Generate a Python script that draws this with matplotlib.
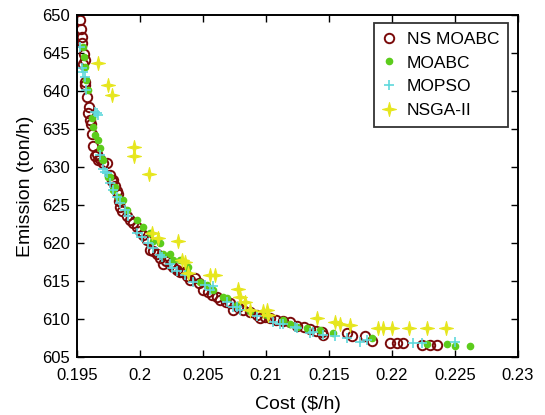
import matplotlib
matplotlib.use("Agg")
import matplotlib.pyplot as plt
from matplotlib.path import Path
import numpy as np

plt.rcParams['font.family'] = ['Liberation Sans', 'DejaVu Sans']

ns_cost = [0.19524, 0.19530, 0.19537, 0.19537, 0.19550, 0.19556, 0.19563, 0.19563, 0.19563,
           0.19577, 0.19590, 0.19597, 0.19603, 0.19610, 0.19617, 0.19630, 0.19643, 0.19656,
           0.19670, 0.19683, 0.19709, 0.19736, 0.19760, 0.19775, 0.19788, 0.19800, 0.19815,
           0.19828, 0.19835, 0.19841, 0.19860, 0.19894, 0.19920, 0.19945, 0.19974, 0.20000,
           0.20025, 0.20053, 0.20079, 0.20105, 0.20133, 0.20160, 0.20185, 0.20210, 0.20238,
           0.20265, 0.20291, 0.20320, 0.20344, 0.20370, 0.20397, 0.20437, 0.20470, 0.20502,
           0.20540, 0.20570, 0.20609, 0.20635, 0.20680, 0.20714, 0.20740, 0.20780, 0.20820,
           0.20870, 0.20926, 0.20952, 0.20990, 0.21032, 0.21080, 0.21137, 0.21190, 0.21244,
           0.21300, 0.21349, 0.21400, 0.21442, 0.21455, 0.21640, 0.21680, 0.21786, 0.21839,
           0.21984, 0.22037, 0.22090, 0.22236, 0.22302, 0.22360]
ns_em = [649.3, 648.2, 647.1, 646.3, 643.6, 644.9, 644.1, 641.2, 640.8,
         639.2, 637.1, 637.9, 636.2, 635.6, 634.4, 632.7, 631.4, 631.7,
         630.9, 631.1, 630.5, 630.5, 629.0, 628.1, 628.3, 627.5, 626.8,
         626.5, 625.5, 624.8, 624.2, 623.5, 623.0, 622.6, 622.1, 621.6,
         621.0, 620.4, 619.1, 619.0, 618.6, 618.0, 617.3, 617.6, 617.3,
         616.8, 616.4, 616.2, 616.2, 615.6, 615.1, 615.4, 614.7, 613.8,
         613.6, 613.2, 612.9, 612.5, 612.3, 612.1, 611.2, 611.6, 611.2,
         610.9, 610.5, 610.1, 610.3, 610.1, 609.9, 609.7, 609.6, 609.1,
         609.0, 608.7, 608.4, 608.3, 607.9, 608.1, 607.7, 607.7, 607.1,
         606.9, 606.9, 606.8, 606.6, 606.6, 606.6]

moabc_cost = [0.19550, 0.19556, 0.19563, 0.19571, 0.19590, 0.19617, 0.19630, 0.19643, 0.19669,
              0.19683, 0.19696, 0.19709, 0.19749, 0.19762, 0.19788, 0.19802, 0.19828, 0.19855,
              0.19867, 0.19894, 0.19974, 0.20026, 0.20079, 0.20106, 0.20159, 0.20185, 0.20238,
              0.20264, 0.20317, 0.20370, 0.20383, 0.20476, 0.20529, 0.20582, 0.20661, 0.20688,
              0.20767, 0.20873, 0.21006, 0.21137, 0.21191, 0.21244, 0.21323, 0.21429, 0.21534,
              0.21839, 0.22275, 0.22434, 0.22500, 0.22619]
moabc_em = [645.8, 644.5, 643.2, 641.4, 640.1, 636.4, 635.3, 634.2, 633.6,
            632.5, 631.1, 630.9, 628.7, 628.7, 627.0, 627.4, 626.1, 625.7,
            625.7, 624.3, 623.0, 622.1, 621.3, 620.2, 620.0, 618.6, 618.6,
            617.8, 617.8, 616.2, 616.9, 614.9, 614.5, 613.8, 612.9, 612.7,
            611.8, 611.1, 610.5, 609.9, 609.4, 609.0, 608.8, 608.5, 608.1,
            607.5, 606.7, 606.7, 606.5, 606.4]

mopso_cost = [0.19524, 0.19537, 0.19550, 0.19563, 0.19571, 0.19643, 0.19656, 0.19669, 0.19683,
              0.19709, 0.19722, 0.19736, 0.19762, 0.19788, 0.19815, 0.19841, 0.19881, 0.19907,
              0.19974, 0.20013, 0.20066, 0.20106, 0.20159, 0.20172, 0.20238, 0.20251, 0.20291,
              0.20357, 0.20423, 0.20516, 0.20556, 0.20582, 0.20688, 0.20740, 0.20767, 0.20794,
              0.20926, 0.21058, 0.21111, 0.21137, 0.21230, 0.21244, 0.21349, 0.21375, 0.21455,
              0.21548, 0.21640, 0.21746, 0.21799, 0.22169, 0.22236, 0.22500]
mopso_em = [645.8, 643.0, 642.5, 641.9, 640.1, 637.3, 637.1, 636.8, 631.6,
            629.8, 629.4, 629.2, 627.9, 627.0, 626.1, 625.2, 624.3, 623.5,
            621.3, 620.8, 620.0, 619.3, 618.4, 618.2, 617.3, 616.7, 616.3,
            615.8, 614.9, 614.5, 613.8, 614.3, 612.3, 611.6, 611.6, 611.2,
            610.4, 609.6, 609.4, 609.4, 609.0, 608.8, 608.1, 608.3, 607.9,
            607.7, 607.5, 607.0, 607.2, 606.8, 606.8, 607.0]

nsga_cost = [0.19669, 0.19744, 0.19775, 0.19952, 0.19952, 0.20074, 0.20093, 0.20145, 0.20304,
             0.20331, 0.20357, 0.20383, 0.20556, 0.20595, 0.20780, 0.20794, 0.20833, 0.20873,
             0.21006, 0.20979, 0.21018, 0.21402, 0.21548, 0.21587, 0.21667, 0.21891, 0.21931,
             0.21998, 0.22137, 0.22275, 0.22429]
nsga_em = [643.7, 640.8, 639.5, 632.6, 631.5, 629.1, 621.3, 620.6, 620.2,
           617.8, 617.5, 616.0, 615.8, 615.8, 614.0, 612.9, 612.3, 611.2,
           611.2, 611.0, 610.5, 610.1, 609.6, 609.4, 609.2, 608.8, 608.8,
           608.8, 608.8, 608.8, 608.8]

x_ticks = [0.195, 0.2, 0.205, 0.21, 0.215, 0.22, 0.225, 0.23]
x_tick_labels = ['0.195', '0.2', '0.205', '0.21', '0.215', '0.22', '0.225', '0.23']
y_ticks = [605, 610, 615, 620, 625, 630, 635, 640, 645, 650]

# thin 4-pointed star marker
ang = np.arange(8) * np.pi / 4 + np.pi / 2
rad = np.where(np.arange(8) % 2 == 0, 1.0, 0.28)
star_verts = np.column_stack([rad * np.cos(ang), rad * np.sin(ang)])
star_verts = np.vstack([star_verts, star_verts[:1]])
star = Path(star_verts, closed=True)

fig = plt.figure(figsize=(5.45, 4.15), dpi=100)
ax = fig.add_axes([77/545, 1-357/415, (518-77)/545, (357-15)/415])

ax.plot(ns_cost, ns_em, linestyle='none', marker='o', markersize=6.8, markerfacecolor='none',
        markeredgecolor='#7a0a0a', markeredgewidth=1.4, label='NS MOABC')
ax.plot(moabc_cost, moabc_em, linestyle='none', marker='o', markersize=4.5,
        markerfacecolor='#5ccc1c', markeredgecolor='#5ccc1c', label='MOABC')
ax.plot(mopso_cost, mopso_em, linestyle='none', marker='+', markersize=7.5,
        markeredgecolor='#5fd8dc', markeredgewidth=1.2, label='MOPSO')
ax.plot(nsga_cost, nsga_em, linestyle='none', marker=star, markersize=10,
        markerfacecolor='#e6e61e', markeredgecolor='#e6e61e', markeredgewidth=0.8, label='NSGA-II')

ax.set_xlim(0.195, 0.23)
ax.set_ylim(605, 650)
ax.set_xticks(x_ticks)
ax.set_xticklabels(x_tick_labels)
ax.set_yticks(y_ticks)
ax.tick_params(direction='in', top=True, right=True, length=5, width=1, labelsize=12)
ax.tick_params(axis='x', pad=8)
ax.tick_params(axis='y', pad=5)
for s in ax.spines.values():
    s.set_linewidth(1.4)
ax.set_xlabel('Cost ($/h)', fontsize=14, labelpad=9)
ax.set_ylabel('Emission (ton/h)', fontsize=14, labelpad=6)

leg = ax.legend(loc='upper right', fontsize=12.5, frameon=True, fancybox=False, edgecolor='black',
                handlelength=0.8, handletextpad=0.6, borderpad=0.5, labelspacing=0.5,
                bbox_to_anchor=(0.977, 0.977), borderaxespad=0)
leg.get_frame().set_linewidth(1.3)

fig.savefig('out.png', dpi=100)
